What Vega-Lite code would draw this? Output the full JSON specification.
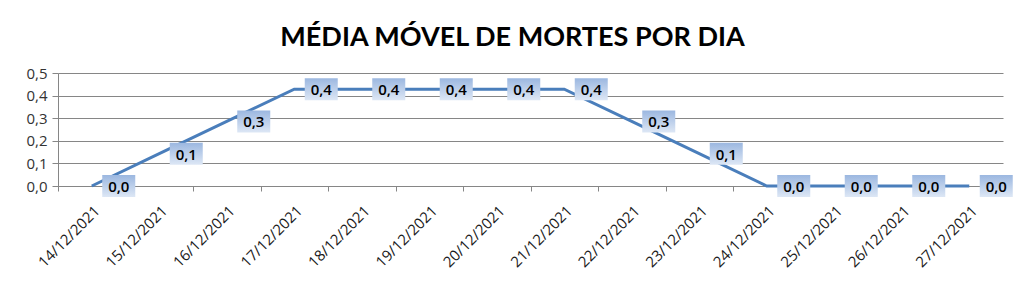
{
  "$schema": "https://vega.github.io/schema/vega-lite/v6.json",
  "autosize": {"type": "none"},
  "width": 945,
  "height": 113,
  "padding": {"left": 58, "top": 73, "right": 21, "bottom": 110},
  "background": "white",
  "config": {
    "locale": {"number": {"decimal": ",", "thousands": ".", "grouping": [3], "currency": ["R$", ""]}},
    "view": {"stroke": null},
    "font": "Lato"
  },
  "title": {
    "text": "MÉDIA MÓVEL DE MORTES POR DIA",
    "font": "Lato",
    "fontSize": 27,
    "fontWeight": "bold",
    "color": "#000000",
    "anchor": "middle",
    "offset": 14,
    "dx": -18
  },
  "data": {
    "values": [
      {"data": "14/12/2021", "valor": 0},
      {"data": "15/12/2021", "valor": 0.142857},
      {"data": "16/12/2021", "valor": 0.285714},
      {"data": "17/12/2021", "valor": 0.428571},
      {"data": "18/12/2021", "valor": 0.428571},
      {"data": "19/12/2021", "valor": 0.428571},
      {"data": "20/12/2021", "valor": 0.428571},
      {"data": "21/12/2021", "valor": 0.428571},
      {"data": "22/12/2021", "valor": 0.285714},
      {"data": "23/12/2021", "valor": 0.142857},
      {"data": "24/12/2021", "valor": 0},
      {"data": "25/12/2021", "valor": 0},
      {"data": "26/12/2021", "valor": 0},
      {"data": "27/12/2021", "valor": 0}
    ]
  },
  "encoding": {
    "x": {
      "field": "data",
      "type": "ordinal",
      "sort": null,
      "bandPosition": 0.5,
      "scale": {"type": "band", "paddingInner": 0, "paddingOuter": 0},
      "axis": {
        "title": null,
        "labelAngle": -45,
        "labelFont": "Open Sans",
        "labelFontSize": 15,
        "labelColor": "#1a1a1a",
        "labelPadding": 12,
        "tickBand": "extent",
        "tickColor": "#868686",
        "tickSize": 5,
        "domainColor": "#868686",
        "grid": false
      }
    },
    "y": {
      "field": "valor",
      "type": "quantitative",
      "scale": {"domain": [0, 0.5], "nice": false},
      "axis": {
        "title": null,
        "values": [0, 0.1, 0.2, 0.3, 0.4, 0.5],
        "format": ".1f",
        "labelFont": "Open Sans",
        "labelFontSize": 15,
        "labelColor": "#333333",
        "labelPadding": 5,
        "tickColor": "#868686",
        "tickSize": 6,
        "domainColor": "#868686",
        "gridColor": "#868686",
        "gridWidth": 1
      }
    }
  },
  "layer": [
    {
      "mark": {"type": "line", "color": "#4A7EBB", "strokeWidth": 3}
    },
    {
      "mark": {
        "type": "point",
        "shape": "M-1.5,-1H1.5V1H-1.5Z",
        "size": 484,
        "filled": true,
        "opacity": 1,
        "xOffset": 27,
        "fill": {
          "gradient": "linear",
          "x1": 0, "y1": 0, "x2": 0, "y2": 1,
          "stops": [
            {"offset": 0, "color": "#9BB7E0"},
            {"offset": 1, "color": "#DDE7F5"}
          ]
        },
        "strokeWidth": 0
      }
    },
    {
      "mark": {
        "type": "text",
        "xOffset": 27,
        "yOffset": 1,
        "font": "Open Sans",
        "fontSize": 15,
        "fontWeight": 600,
        "color": "#000000"
      },
      "encoding": {
        "text": {"field": "valor", "type": "quantitative", "format": ".1f"}
      }
    }
  ]
}
